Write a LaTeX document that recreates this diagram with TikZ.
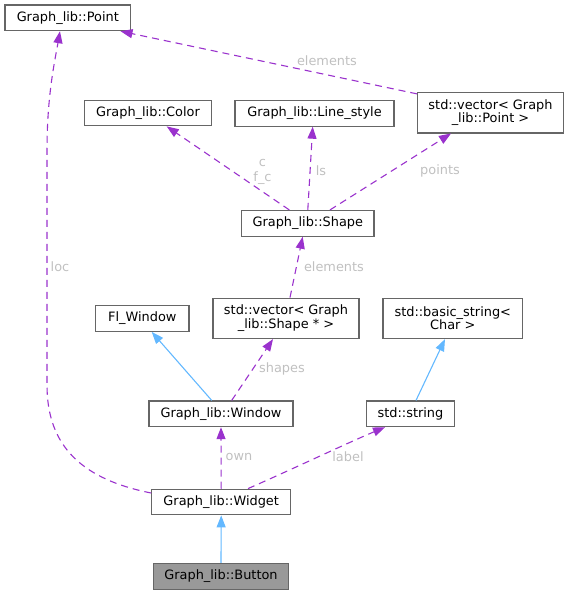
\documentclass[tikz,border=0pt]{standalone}
\usepackage{fontspec}
\setmainfont{DejaVu Sans}
\usetikzlibrary{arrows.meta}
\definecolor{nodeborder}{HTML}{666666}
\definecolor{buttonfill}{HTML}{999999}
\definecolor{deppurple}{HTML}{9A32CD}
\definecolor{inhblue}{HTML}{63B8FF}
\definecolor{lblgrey}{HTML}{C0C0C0}
\tikzset{
  cls/.style={draw=nodeborder, line width=1.1pt, fill=white, rectangle, inner sep=0pt,
    minimum height=25.7pt, align=center, font=\fontsize{12.9pt}{13.7pt}\selectfont},
  cls2/.style={cls, minimum height=40.5pt},
  dep/.style={draw=deppurple, line width=1.1pt, dash pattern=on 7pt off 5pt,
    -{Triangle[length=12pt,width=9pt,fill=deppurple]}},
  inh/.style={draw=inhblue, line width=1.1pt,
    -{Triangle[length=12pt,width=9pt,fill=inhblue]}},
  lbl/.style={text=lblgrey, inner sep=0pt, align=center, font=\fontsize{12.9pt}{15pt}\selectfont}
}
\begin{document}
\begin{tikzpicture}[x=1pt,y=-1pt]
\useasboundingbox (0,0) rectangle (569,595);
% nodes
\node[cls, minimum width=125.7pt] (pt) at (67.8,17.8) {Graph\_lib::Point};
\node[cls, minimum width=127.4pt] (col) at (148,113) {Graph\_lib::Color};
\node[cls, minimum width=159pt] (ls) at (314.5,113.3) {Graph\_lib::Line\_style};
\node[cls2, minimum width=145.6pt] (vp) at (490.5,112.7) {std::vector< Graph\\\_lib::Point >};
\node[cls, minimum width=132.3pt] (shape) at (307.8,223.3) {Graph\_lib::Shape};
\node[cls2, minimum width=146pt] (vs) at (286,318.3) {std::vector< Graph\\\_lib::Shape * >};
\node[cls, minimum width=93.3pt] (fl) at (142.3,318.5) {Fl\_Window};
\node[cls2, minimum width=139.7pt] (bs) at (452.8,318.3) {std::basic\_string<\\Char >};
\node[cls, minimum width=144pt] (win) at (221,413.8) {Graph\_lib::Window};
\node[cls, minimum width=87.6pt] (str) at (410.5,413.8) {std::string};
\node[cls, minimum width=139pt] (wid) at (221.2,502) {Graph\_lib::Widget};
\node[cls, minimum width=135.4pt, fill=buttonfill] (btn) at (221,576.3) {Graph\_lib::Button};
% edges
\draw[dep] ([yshift=-2pt]vp.north west) -- ([xshift=-10.7pt]pt.south east);
\draw[dep] ([yshift=9pt]wid.west) .. controls (75,478) and (47,440) .. (47,385)
  -- (47,150) .. controls (47,95) and (55,60) .. ([xshift=-7.8pt]pt.south);
\draw[dep] ([xshift=-18.5pt]shape.north) -- ([xshift=18.7pt]col.south);
\draw[dep] (shape.north) -- ([xshift=-1.8pt]ls.south);
\draw[dep] ([xshift=22.2pt]shape.north) -- ([xshift=-39.5pt]vp.south);
\draw[dep] ([xshift=4pt]vs.north) -- ([xshift=-5.1pt]shape.south);
\draw[inh] ([xshift=-9.3pt]win.north) -- ([xshift=9.4pt]fl.south);
\draw[dep] ([xshift=10.7pt]win.north) -- ([xshift=-13pt]vs.south);
\draw[inh] ([xshift=5.5pt]str.north) -- ([xshift=-7.8pt]bs.south);
\draw[dep] (wid.north) -- (win.south);
\draw[dep] ([xshift=26.8pt]wid.north) .. controls (295,468) and (345,444) .. ([xshift=-25.5pt]str.south);
\draw[inh] (btn.north) -- (wid.south);
% edge labels
\node[lbl] (l1) at (327,61) {elements};
\node[lbl] (l2) at (60,267) {loc};
\node[lbl] (l3) at (262.5,171.5) {c\\f\_c};
\node[lbl] (l4) at (321,171) {ls};
\node[lbl] (l5) at (440,171) {points};
\node[lbl] (l6) at (334,267) {elements};
\node[lbl] (l7) at (282,369) {shapes};
\node[lbl] (l8) at (239,457) {own};
\node[lbl] (l9) at (348,457) {label};
\end{tikzpicture}
\end{document}
